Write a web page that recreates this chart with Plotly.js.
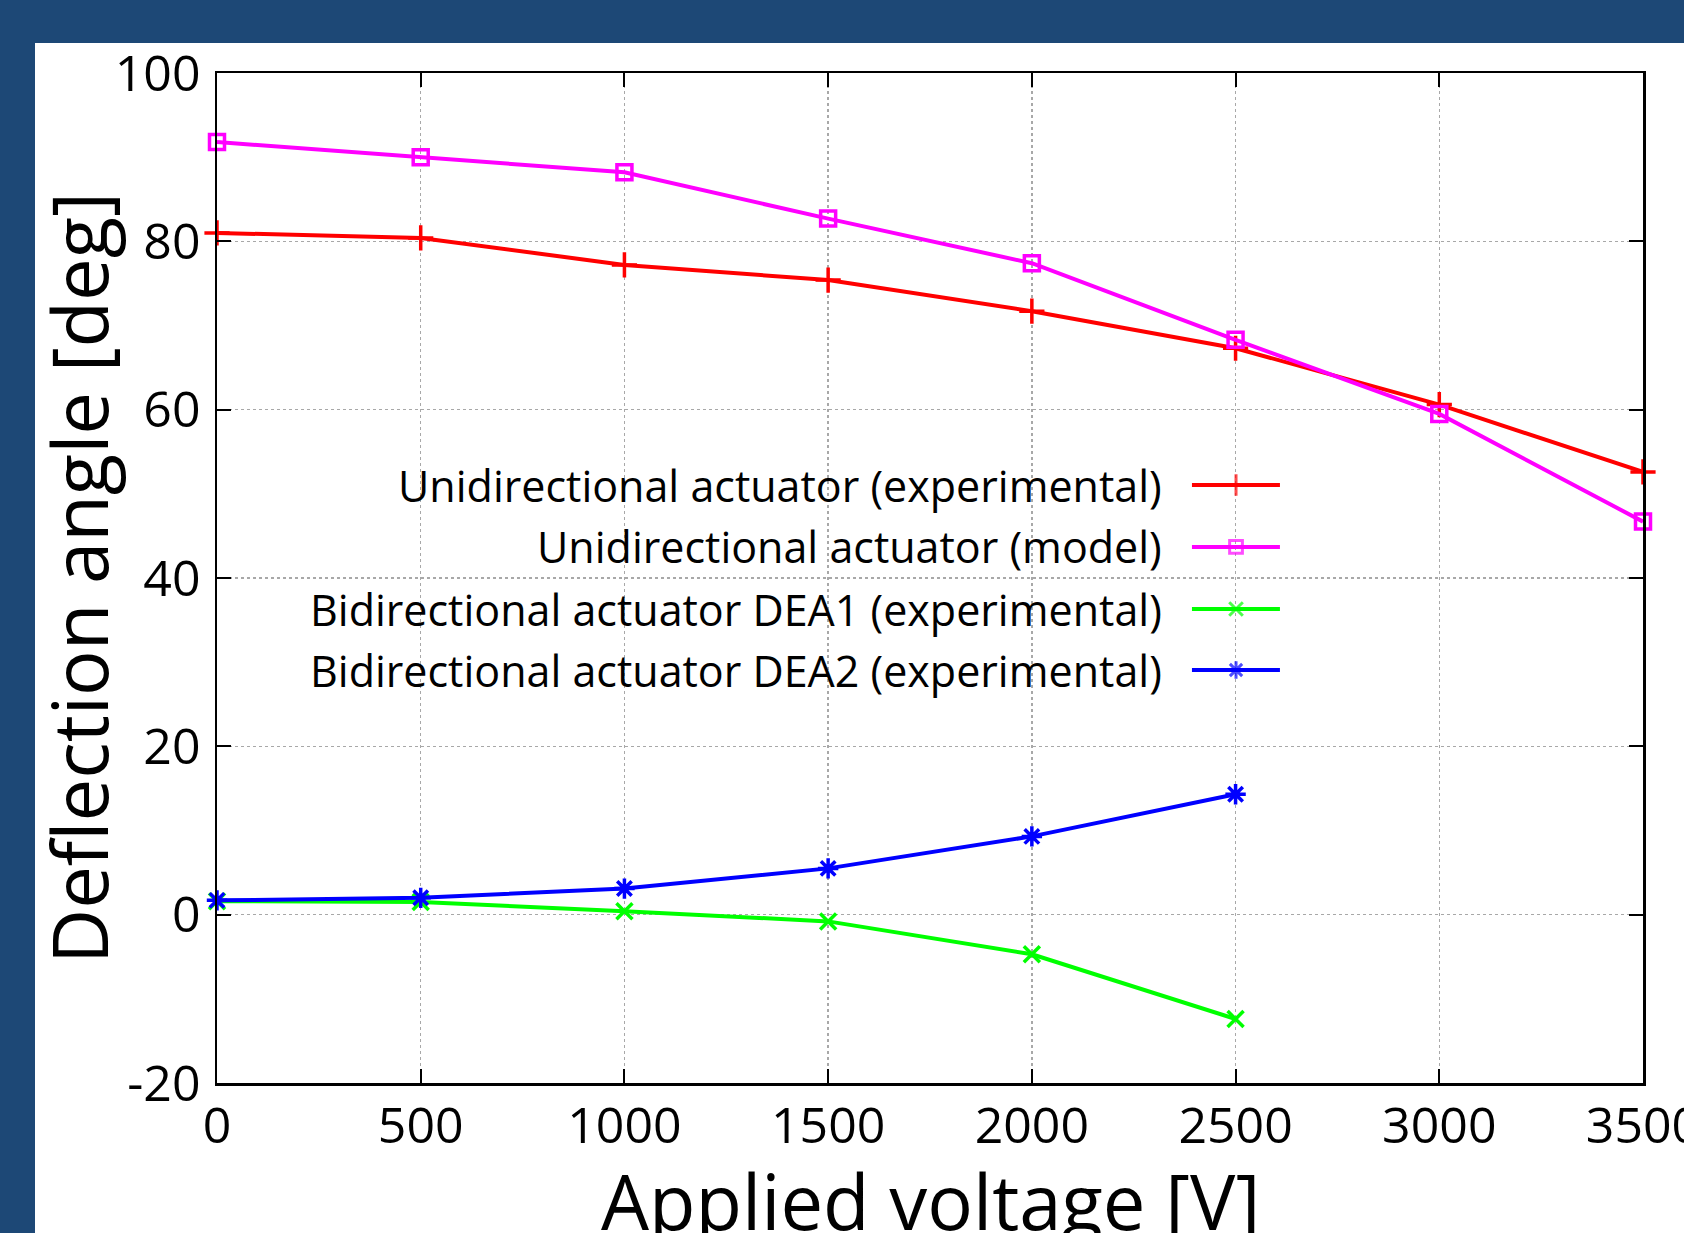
<!DOCTYPE html>
<html>
<head>
<meta charset="utf-8">
<script src="https://cdn.plot.ly/plotly-3.0.1.min.js"></script>
<style>
  html, body { margin: 0; padding: 0; width: 1684px; height: 1233px; overflow: hidden; background: #1d4876; }
  #chart { position: absolute; left: 35px; top: 43px; width: 1649px; height: 1290px; background: #ffffff; }
</style>
</head>
<body>
<div id="chart"></div>
<script>
// ---- data ----
const voltage = [0, 500, 1000, 1500, 2000, 2500, 3000, 3500];
const voltageBi = [0, 500, 1000, 1500, 2000, 2500];
const uniExperimental = [81.0, 80.4, 77.2, 75.4, 71.7, 67.3, 60.6, 52.6];
const uniModel = [91.8, 90.0, 88.2, 82.7, 77.4, 68.3, 59.5, 46.7];
const biDEA1 = [1.6, 1.5, 0.4, -0.8, -4.7, -12.4];
const biDEA2 = [1.7, 2.0, 3.1, 5.5, 9.3, 14.3];
const seriesNames = [
  "Unidirectional actuator (experimental)",
  "Unidirectional actuator (model)",
  "Bidirectional actuator DEA1 (experimental)",
  "Bidirectional actuator DEA2 (experimental)"
];
const xTitle = "Applied voltage [V]";
const yTitle = "Deflection angle [deg]";
const xTickVals = [0, 500, 1000, 1500, 2000, 2500, 3000, 3500];
const yTickVals = [-20, 0, 20, 40, 60, 80, 100];

// ---- styles ----
const FONT = "Open Sans, Lato, sans-serif";
const styles = [
  {color: "#ff0000", symbol: "cross-thin", size: 18},
  {color: "#ff00ff", symbol: "square-open", size: 15},
  {color: "#00ff00", symbol: "x-thin", size: 16},
  {color: "#0000ff", symbol: "asterisk-open", size: 17}
];
const seriesX = [voltage, voltage, voltageBi, voltageBi];
const seriesY = [uniExperimental, uniModel, biDEA1, biDEA2];

// legend layout (paper coordinates)
const legendTextRight = 0.664;
const legendLineX = [0.6837, 0.7146, 0.7454];
const legendRowsY = [0.592, 0.5307, 0.4693, 0.4089];

const traces = [];
seriesY.forEach((ys, i) => {
  const s = styles[i];
  traces.push({
    x: seriesX[i], y: ys, type: "scatter", mode: "lines+markers",
    name: seriesNames[i], showlegend: false, cliponaxis: false,
    line: {color: s.color, width: 4},
    marker: {symbol: s.symbol, size: s.size, color: s.color, line: {color: s.color, width: 3.5}}
  });
});
// legend samples on an overlay axis spanning [0,1]
seriesY.forEach((ys, i) => {
  const s = styles[i];
  traces.push({
    x: legendLineX, y: [legendRowsY[i], legendRowsY[i], legendRowsY[i]],
    xaxis: "x2", yaxis: "y2", type: "scatter", mode: "lines+markers",
    showlegend: false, hoverinfo: "skip",
    line: {color: s.color, width: 4},
    marker: {symbol: s.symbol, size: [0, s.size * 0.85, 0], color: s.color, line: {color: s.color, width: 3}}
  });
});

const annotations = seriesNames.map((n, i) => ({
  text: n, xref: "paper", yref: "paper", x: legendTextRight, y: legendRowsY[i],
  xanchor: "right", yanchor: "middle", showarrow: false,
  font: {family: FONT, size: 43, color: "#000000"}
}));
// axis titles
annotations.push({
  text: xTitle, xref: "paper", yref: "paper", x: 0.5, y: -0.0635,
  xanchor: "center", yanchor: "top", showarrow: false,
  font: {family: FONT, size: 76, color: "#000000"}
});
annotations.push({
  text: yTitle, xref: "paper", yref: "paper", x: -0.0975, y: 0.5, textangle: -90,
  xanchor: "center", yanchor: "middle", showarrow: false,
  font: {family: FONT, size: 76, color: "#000000"}
});

const axisCommon = {
  ticks: "inside", ticklen: 14, tickwidth: 2, tickcolor: "#000000",
  showline: true, linecolor: "#000000", linewidth: 2.5, mirror: "ticks",
  showgrid: true, gridcolor: "#a8a8a8", gridwidth: 1.5, griddash: "dot",
  zeroline: false, automargin: false, ticklabeloverflow: "allow",
  tickfont: {family: FONT, size: 50, color: "#000000"}
};

const layout = {
  width: 1649, height: 1290,
  margin: {l: 182, r: 41, t: 30, b: 250},
  paper_bgcolor: "#ffffff", plot_bgcolor: "#ffffff",
  showlegend: false,
  font: {family: FONT, color: "#000000"},
  xaxis: Object.assign({}, axisCommon, {
    range: [0, 3500], tickvals: xTickVals, ticktext: xTickVals.map(String),
    ticklabelstandoff: -3
  }),
  yaxis: Object.assign({}, axisCommon, {
    range: [-20, 100], tickvals: yTickVals, ticktext: yTickVals.map(String),
    ticklabelstandoff: 4
  }),
  xaxis2: {overlaying: "x", range: [0, 1], visible: false, fixedrange: true},
  yaxis2: {overlaying: "y", range: [0, 1], visible: false, fixedrange: true},
  annotations: annotations
};

Plotly.newPlot("chart", traces, layout, {staticPlot: true, displayModeBar: false});
</script>
</body>
</html>
